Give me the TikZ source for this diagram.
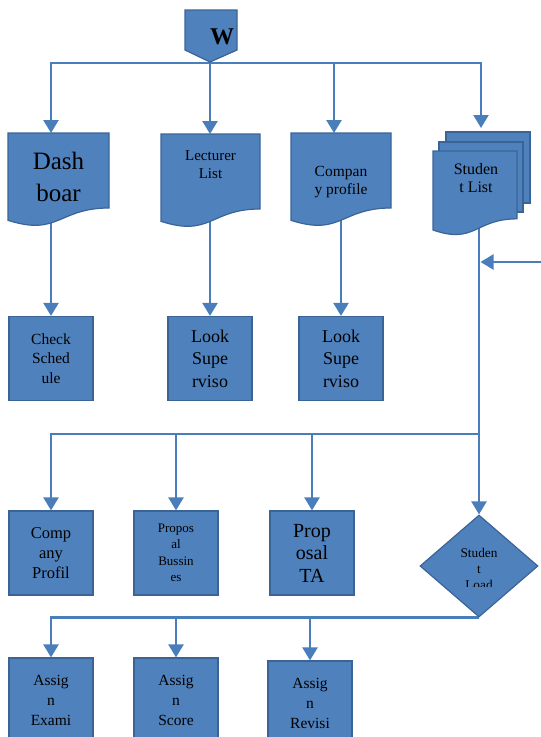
\documentclass[tikz,border=0pt]{standalone}
\usepackage{fontspec}
\setmainfont{Liberation Serif}
\usetikzlibrary{arrows.meta,shapes.geometric,backgrounds}
\definecolor{boxfill}{HTML}{4F81BD}
\definecolor{boxline}{HTML}{3A6496}
\definecolor{connc}{HTML}{4A7EBB}
\newcommand{\docpath}[4]{%
  \path[docshape] (#1,#2) -- ({#1+#3},#2) -- ({#1+#3},{#2+0.802*#4})
    .. controls ({#1+0.5*#3},{#2+0.802*#4}) and ({#1+0.5*#3},{#2+1.107*#4}) .. (#1,{#2+0.934*#4}) -- cycle;}
\begin{document}
\begin{tikzpicture}[x=1pt,y=-1pt,
  box/.style={draw=boxline, fill=boxfill, line width=1.2pt, minimum width=84pt, minimum height=84pt, inner sep=0pt, align=center, text=black},
  docshape/.style={draw=boxline, fill=boxfill, line width=1.2pt},
  arr/.style={draw=connc, line width=2.4pt, -{Triangle[width=15pt,length=13pt]}},
  ln/.style={draw=connc, line width=2.4pt},
  lbl/.style={align=center, inner sep=0pt, text=black}]
\useasboundingbox (0,0) rectangle (541,737);
\clip (0,0) rectangle (541,737);

% off-page connector W
\path[docshape] (185,10) -- (237,10) -- (237,50) -- (210,62) -- (185,50) -- cycle;
\node[lbl, font=\fontsize{24}{28}\selectfont\bfseries] (w) at (222,37) {W};

% documents
\docpath{8}{133}{101}{93.5}
\node[lbl, font=\fontsize{25}{31.7}\selectfont] (dash) at (58.5,177) {Dash\\boar};
\docpath{161}{134}{99}{93.5}
\node[lbl, font=\fontsize{15}{18.3}\selectfont] (lect) at (210.5,165) {Lecturer\\List};
\docpath{291}{133}{100}{93.5}
\node[lbl, font=\fontsize{15.5}{18.3}\selectfont] (comp) at (341,182) {Compan\\y profile};
% multidocument
\path[docshape] (446,132) rectangle (530,203);
\path[docshape] (439,142) rectangle (523,212);
\docpath{433}{151}{84}{84.6}
\node[lbl, font=\fontsize{16}{18.3}\selectfont] (stud) at (476,178) {Studen\\t List};

% row 2
\node[box, font=\fontsize{15.5}{19.8}\selectfont] (check) at (51,358.5) {Check\\Sched\\ule};
\node[box, font=\fontsize{18}{22.5}\selectfont] (look1) at (210,358.5) {Look\\Supe\\rviso};
\node[box, font=\fontsize{18}{22.5}\selectfont] (look2) at (341,358.5) {Look\\Supe\\rviso};

% row 3
\node[box, font=\fontsize{16.5}{20}\selectfont] (cprof) at (51,553) {Comp\\any\\Profil};
\node[box, font=\fontsize{13}{16.5}\selectfont] (propb) at (176,553) {Propos\\al\\Bussin\\es};
\node[box, font=\fontsize{20}{22.5}\selectfont] (propta) at (312,553) {Prop\\osal\\TA};

% decision
\node[draw=boxline, fill=boxfill, line width=1.2pt, diamond, minimum width=118pt, minimum height=102pt, inner sep=0pt] (load) at (479,566) {};
\begin{scope}
  \clip (400,500) rectangle (541,586);
  \node[lbl, font=\fontsize{13.3}{16}\selectfont] (loadtxt) at (479,569) {Studen\\t\\Load};
\end{scope}

% row 4
\node[box, font=\fontsize{15.5}{20}\selectfont] (exam) at (51,700) {Assig\\n\\Exami};
\node[box, font=\fontsize{15.5}{20}\selectfont] (score) at (176,700) {Assig\\n\\Score};
\node[box, font=\fontsize{15.5}{20}\selectfont] (revisi) at (310,703) {Assig\\n\\Revisi};

% coordinates
\coordinate (wtip) at (210,63);
\coordinate (dashtop) at (51,133);
\coordinate (lecttop) at (210,134);
\coordinate (comptop) at (334,133);
\coordinate (studtop) at (481,128);
\coordinate (dashbot) at (51,215);
\coordinate (lectbot) at (210,215);
\coordinate (compbot) at (341,215);
\coordinate (studbot) at (479,225);
\coordinate (busR) at (479,434);
\coordinate (rightin) at (545,262);
\coordinate (rightjoin) at (480.5,262);

\begin{scope}[on background layer]
  \draw[arr] (wtip) -| (dashtop);
  \draw[arr] (wtip) -- (lecttop);
  \draw[arr] (wtip) -| (comptop);
  \draw[arr] (wtip) -| (studtop);
  \draw[arr] (dashbot) -- (check.north);
  \draw[arr] (lectbot) -- (look1.north);
  \draw[arr] (compbot) -- (look2.north);
  \draw[ln] (studbot) -- (busR);
  \draw[arr] (busR) -- (load.north);
  \draw[arr] (rightin) -- (rightjoin);
  \draw[arr] (busR) -| (cprof.north);
  \draw[arr] (busR) -| (propb.north);
  \draw[arr] (busR) -| (propta.north);
  \draw[arr] (load.south) -| (exam.north);
  \draw[arr] (load.south) -| (score.north);
  \draw[arr] (load.south) -| (revisi.north);
\end{scope}
\end{tikzpicture}
\end{document}
